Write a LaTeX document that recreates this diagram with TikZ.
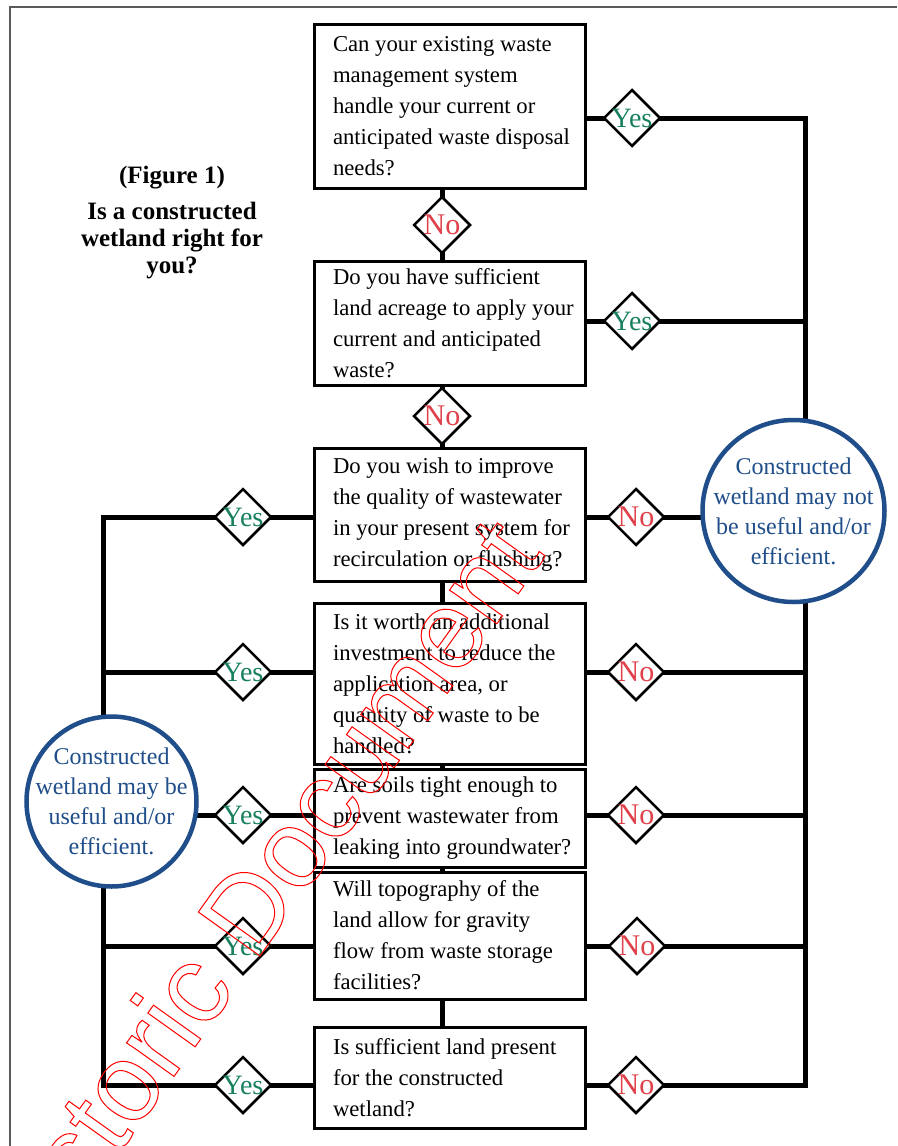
\documentclass[tikz,border=0pt]{standalone}
\usepackage{fontspec}
\setmainfont{Liberation Serif}
\newfontfamily\stampfont{Liberation Sans}
\usetikzlibrary{shapes.geometric}
\pgfdeclarelayer{background}
\pgfsetlayers{background,main}
\definecolor{yesgreen}{RGB}{24,128,96}
\definecolor{nored}{RGB}{224,64,74}
\definecolor{bubblue}{RGB}{31,78,138}
\definecolor{framegray}{RGB}{90,90,90}
% outlined letters for the stamp
\newcommand\hollow[1]{\special{pdf:literal direct 1 Tr 1 w}#1\special{pdf:literal direct 0 Tr}}

\begin{document}
\begin{tikzpicture}
	[	x=1pt,y=-1pt,
	qbox/.style={rectangle,draw=black,line width=3pt,fill=white,minimum width=271pt,text width=267pt,inner xsep=2pt,inner ysep=0pt,align=flush left,font=\fontsize{22.7}{31}\selectfont,execute at begin node={\leftskip=17pt\rightskip=0pt plus 1fil}},
	dia/.style={diamond,draw=black,line width=2.5pt,fill=white,minimum size=57pt,inner sep=0pt},
	ydia/.style={dia,label={[font=\fontsize{28}{28}\selectfont,text=yesgreen]center:Yes}},
	ndia/.style={dia,label={[font=\fontsize{30}{30}\selectfont,text=nored]center:No}},
	bubble/.style={circle,draw=bubblue,line width=4.5pt,fill=white,inner sep=0pt},
	bubtext/.style={text=bubblue,align=center,font=\fontsize{24}{30}\selectfont},
	wire/.style={line width=5pt},
	stamp/.style={text=red,inner sep=0pt,font=\stampfont\fontsize{110}{110}\selectfont}
	]
	\useasboundingbox (0,0) rectangle (897,1146);
	\draw[framegray,line width=2pt] (10,1146) -- (10,7) -- (897,7);

\node[font=\bfseries\fontsize{25}{27}\selectfont,align=center,anchor=north,inner sep=0pt] (title) at (172,166)
	{(Figure 1)\\[9pt]Is a constructed\\wetland right for\\you?};

	\node[qbox,minimum height=164pt] (q1) at (449.5,106) {Can your existing waste\\management system\\handle your current or\\anticipated waste disposal\\needs?};
	\node[qbox,minimum height=124pt] (q2) at (449.5,323) {Do you have sufficient\\land acreage to apply your\\current and anticipated\\waste?};
	\node[qbox,minimum height=133pt] (q3) at (449.5,514.5) {Do you wish to improve\\the quality of wastewater\\in your present system for\\recirculation or flushing?};
	\node[qbox,minimum height=161pt] (q4) at (449.5,683.5) {Is it worth an additional\\investment to reduce the\\application area, or\\quantity of waste to be\\handled?};
	\node[qbox,minimum height=98pt] (q5) at (449.5,818) {Are soils tight enough to\\prevent wastewater from\\leaking into groundwater?};
	\node[qbox,minimum height=127pt] (q6) at (449.5,935.5) {Will topography of the\\land allow for gravity\\flow from waste storage\\facilities?};
	\node[qbox,minimum height=101pt] (q7) at (449.5,1077.5) {Is sufficient land present\\for the constructed\\wetland?};

	\node[ndia] (n1) at (442,225){};
	\node[ndia] (n2) at (442,416){};
	\node[ydia] (y1) at (632,118){};
	\node[ydia] (y2) at (632,321){};
	\node[ndia] (n3) at (636,517){};
	\node[ndia] (n4) at (636,672){};
	\node[ndia] (n5) at (636,815){};
	\node[ndia] (n6) at (637,946){};
	\node[ndia] (n7) at (636,1085){};
	\node[ydia] (y3) at (243,517){};
	\node[ydia] (y4) at (243,672){};
	\node[ydia] (y5) at (243,815){};
	\node[ydia] (y6) at (243,946){};
	\node[ydia] (y7) at (243,1085){};

	\node[bubble,minimum size=182pt] (nope) at (793.5,511){};
	\node[bubtext] (nopetext) at (nope) {Constructed\\wetland may not\\be useful and/or\\efficient.};
	\node[bubble,minimum size=170pt] (maybe) at (111.5,801.5){};
	\node[bubtext] (maybetext) at (maybe) {Constructed\\wetland may be\\useful and/or\\efficient.};

	\coordinate (rx) at (805,0);
	\coordinate (lx) at (103,0);
\begin{pgfonlayer}{background}
	\draw[wire] (n1 |- q1) -- (n1 |- q7);
	\draw[wire] (q1 |- y1) -- (rx |- y1) -- (rx |- n7) -- (q7 |- n7);
	\draw[wire] (q3 |- y3) -- (lx |- y3) -- (lx |- y7) -- (q7 |- y7);
	\draw[wire] (q2 |- y2) -- (rx |- y2);
	\foreach \k in {3,4,5,6}
		\draw[wire] (q\k |- n\k) -- (rx |- n\k);
	\foreach \k in {4,5,6}
		\draw[wire] (q\k |- y\k) -- (lx |- y\k);
\end{pgfonlayer}

	\node[stamp,rotate=54.5] (stamp) at (253,898) {\hollow{Historic Document}};
\end{tikzpicture}
\end{document}
